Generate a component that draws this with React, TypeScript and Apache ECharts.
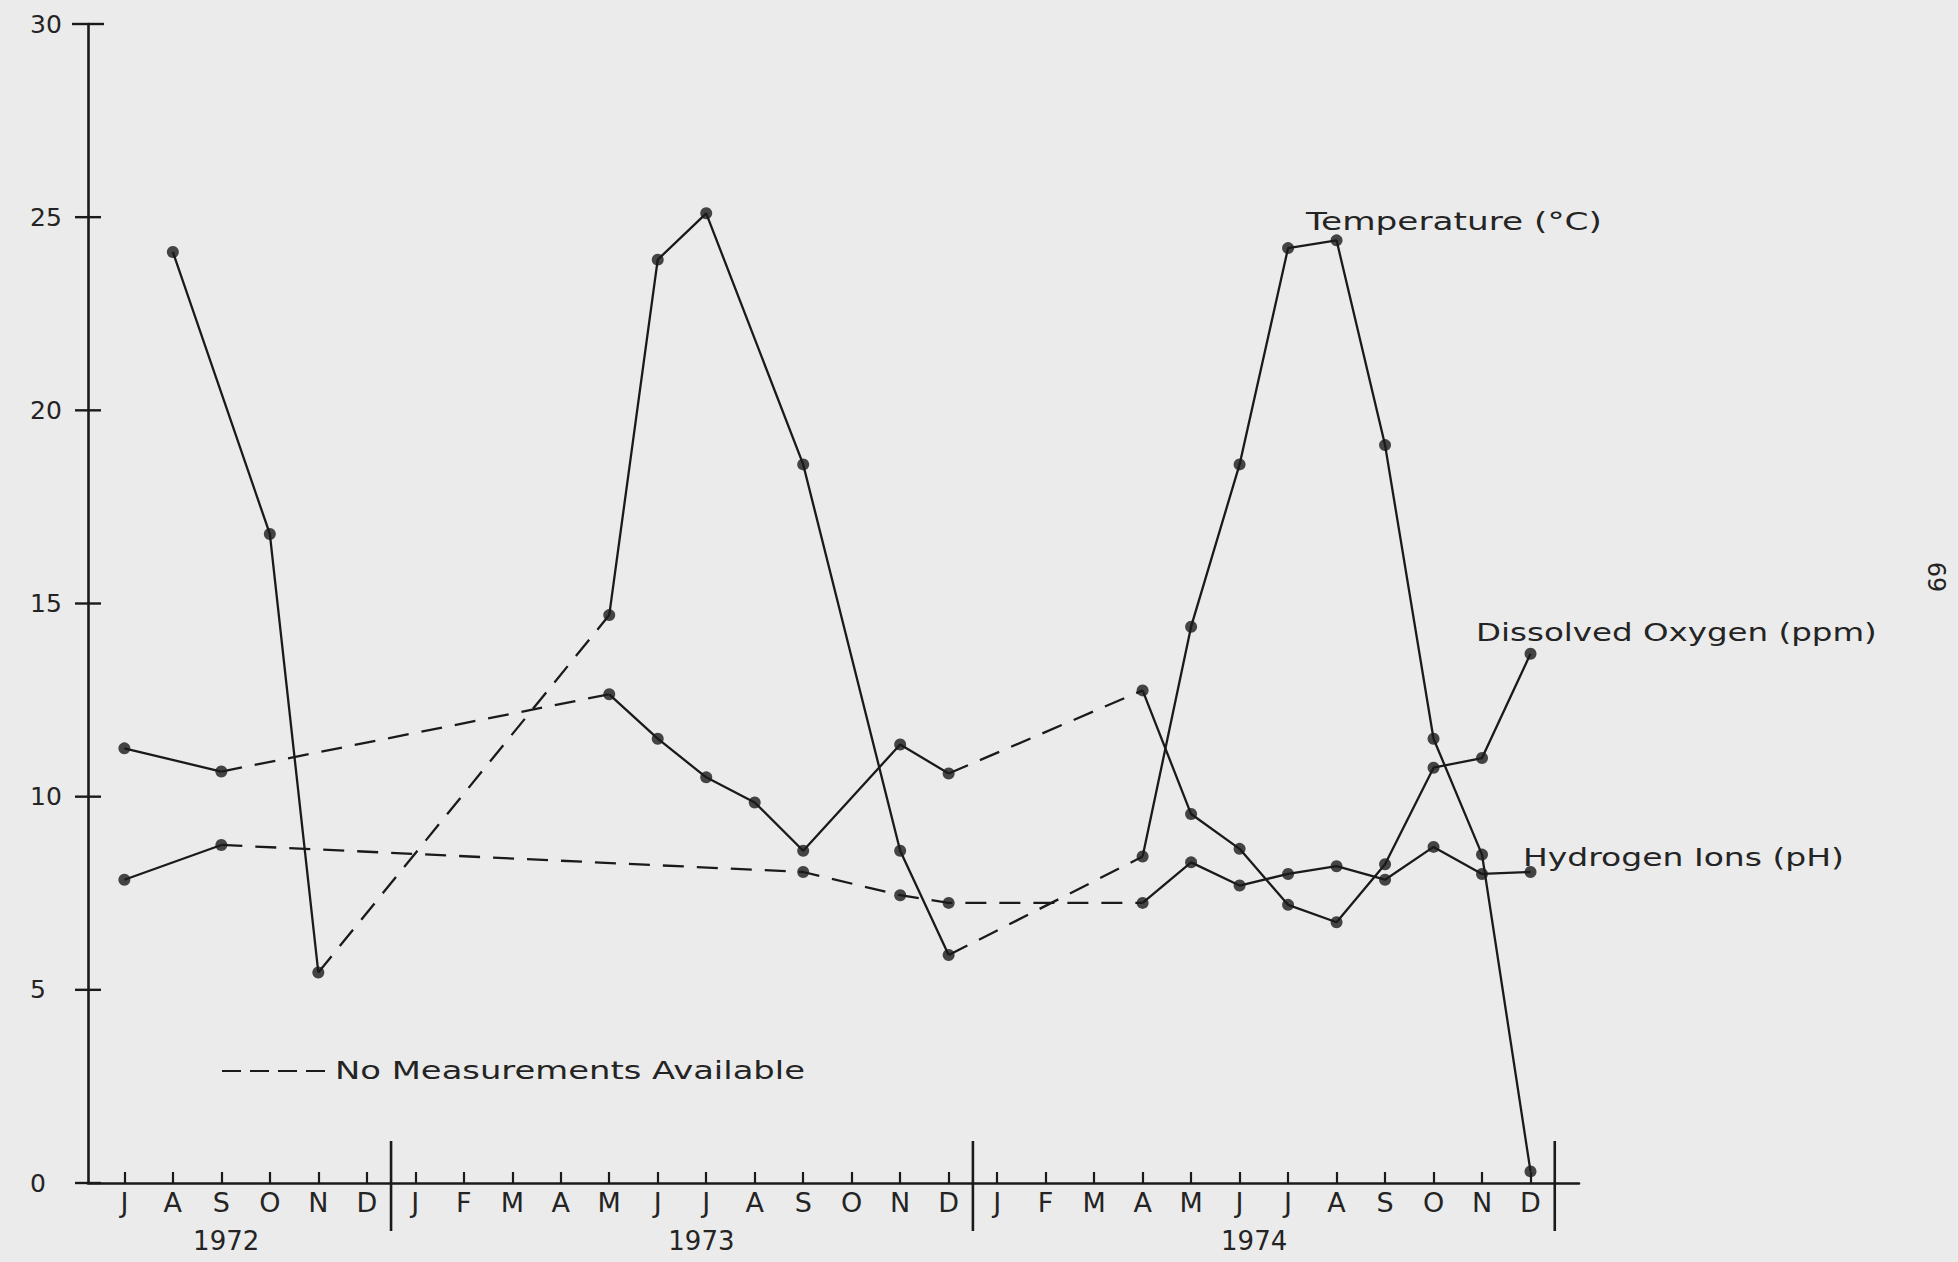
import React, { useEffect, useRef } from "react";
import * as echarts from "echarts";

// ---- data (month index 0 = July 1972 ... 29 = December 1974) ----
const monthLabels = [
  "J", "A", "S", "O", "N", "D",
  "J", "F", "M", "A", "M", "J", "J", "A", "S", "O", "N", "D",
  "J", "F", "M", "A", "M", "J", "J", "A", "S", "O", "N", "D",
];
const yearLabels = ["1972", "1973", "1974"];
const yearLabelPositions = [2.1, 11.9, 23.3];
const yearDividers = [5.5, 17.5, 29.5];
const yTickValues = [0, 5, 10, 15, 20, 25, 30];
const X_MIN = -0.75;
const X_MAX = 30;

const temperature = [
  null, 24.1, null, 16.8, 5.45, null,
  null, null, null, null, 14.7, 23.9, 25.1, null, 18.6, null, 8.6, 5.9,
  null, null, null, 8.45, 14.4, 18.6, 24.2, 24.4, 19.1, 11.5, 8.5, 0.3,
];
const dissolvedOxygen = [
  11.25, null, 10.65, null, null, null,
  null, null, null, null, 12.65, 11.5, 10.5, 9.85, 8.6, null, 11.35, 10.6,
  null, null, null, 12.75, 9.55, 8.65, 7.2, 6.75, 8.25, 10.75, 11.0, 13.7,
];
const hydrogenIons = [
  7.85, null, 8.75, null, null, null,
  null, null, null, null, null, null, null, null, 8.05, null, 7.45, 7.25,
  null, null, null, 7.25, 8.3, 7.7, 8.0, 8.2, 7.85, 8.7, 8.0, 8.05,
];

// spans (from, to month index) drawn dashed: "No Measurements Available"
const temperatureNoData = [[4, 10], [17, 21]];
const oxygenNoData = [[2, 10], [17, 21]];
const hydrogenNoData = [[2, 21]];

const seriesLabels = ["Temperature (°C)", "Dissolved Oxygen (ppm)", "Hydrogen Ions (pH)"];
const legendText = "No Measurements Available";
const pageNumber = "69";

// ---- styling ----
const INK = "#1a1a1a";
const TEXT = "#242424";
const BG = "#ebebeb";
const FONT = '"DejaVu Sans", "Liberation Sans", sans-serif';

function buildSegments(values: (number | null)[], noData: number[][]) {
  const pts: number[][] = [];
  values.forEach((v, i) => {
    if (v !== null && v !== undefined) pts.push([i, v]);
  });
  const segs: { dashed: boolean; points: number[][] }[] = [];
  for (let k = 0; k < pts.length - 1; k++) {
    const a = pts[k];
    const b = pts[k + 1];
    const dashed = noData.some(([s, e]) => s <= a[0] && b[0] <= e);
    const last = segs[segs.length - 1];
    if (last && last.dashed === dashed && last.points[last.points.length - 1] === a) {
      last.points.push(b);
    } else {
      segs.push({ dashed, points: [a, b] });
    }
  }
  return { pts, segs };
}

function measure(text: string, size: number) {
  const c = document.createElement("canvas");
  const ctx = c.getContext("2d");
  if (!ctx) return text.length * size * 0.6;
  ctx.font = `${size}px ${FONT}`;
  return ctx.measureText(text).width;
}

export default function App() {
  const ref = useRef<HTMLDivElement>(null);

  useEffect(() => {
    document.body.style.margin = "0";
    document.body.style.background = BG;
    if (!ref.current) return;
    const chart = echarts.init(ref.current, undefined, { renderer: "svg" });

    const params = [
      { name: "Temperature", values: temperature, noData: temperatureNoData },
      { name: "Dissolved Oxygen", values: dissolvedOxygen, noData: oxygenNoData },
      { name: "Hydrogen Ions", values: hydrogenIons, noData: hydrogenNoData },
    ];

    const series: any[] = [];
    params.forEach((p) => {
      const { pts, segs } = buildSegments(p.values, p.noData);
      segs.forEach((seg, si) => {
        series.push({
          type: "line",
          name: `${p.name} ${si}`,
          data: seg.points,
          showSymbol: false,
          symbol: "none",
          silent: true,
          z: 2,
          lineStyle: {
            color: INK,
            width: 2.3,
            type: seg.dashed ? [21, 13] : "solid",
          },
        });
      });
      series.push({
        type: "scatter",
        name: p.name,
        data: pts,
        symbol: "circle",
        symbolSize: 12,
        itemStyle: { color: INK },
        silent: true,
        z: 3,
      });
    });

    // y-axis ticks crossing the axis line on both sides
    series.push({
      type: "custom",
      name: "yTicks",
      data: yTickValues.map((v) => [X_MIN, v]),
      encode: { x: 0, y: 1 },
      clip: false,
      silent: true,
      renderItem: (_p: any, api: any) => {
        const v = api.value(1);
        const c = api.coord([api.value(0), v]);
        const half = v === 30 ? 16 : 13;
        return {
          type: "line",
          shape: { x1: c[0] - half, y1: c[1], x2: c[0] + half, y2: c[1] },
          style: { stroke: INK, lineWidth: 2.4 },
        };
      },
    });

    // year dividers on the time axis
    series.push({
      type: "custom",
      name: "dividers",
      data: yearDividers.map((x) => [x, 0]),
      encode: { x: 0, y: 1 },
      clip: false,
      silent: true,
      renderItem: (_p: any, api: any) => {
        const c = api.coord([api.value(0), 0]);
        return {
          type: "line",
          shape: { x1: c[0], y1: c[1] - 42, x2: c[0], y2: c[1] + 48 },
          style: { stroke: INK, lineWidth: 2.6 },
        };
      },
    });
    // year labels
    series.push({
      type: "custom",
      name: "years",
      data: yearLabelPositions.map((x) => [x, 0]),
      encode: { x: 0, y: 1 },
      clip: false,
      silent: true,
      renderItem: (p: any, api: any) => {
        const c = api.coord([api.value(0), 0]);
        return {
          type: "text",
          x: c[0],
          y: c[1] + 58,
          style: {
            text: yearLabels[p.dataIndex],
            font: `26px ${FONT}`,
            fill: TEXT,
            align: "center",
            verticalAlign: "middle",
            textAlign: "center",
            textVerticalAlign: "middle",
          },
        };
      },
    });

    const annSize = 25;
    const annotations = [
      { text: seriesLabels[0], left: 1306, right: 1602, y: 221 },
      { text: seriesLabels[1], left: 1476, right: 1877, y: 632 },
      { text: seriesLabels[2], left: 1523, right: 1844, y: 857 },
      { text: legendText, left: 335, right: 805, y: 1070 },
    ];
    const graphic: any[] = annotations.map((a) => ({
      type: "text",
      x: a.left,
      y: a.y,
      scaleX: (a.right - a.left) / measure(a.text, annSize),
      silent: true,
      style: {
        text: a.text,
        font: `${annSize}px ${FONT}`,
        fill: TEXT,
        align: "left",
        verticalAlign: "middle",
        textAlign: "left",
        textVerticalAlign: "middle",
      },
    }));
    graphic.push({
      type: "line",
      silent: true,
      shape: { x1: 222, y1: 1071, x2: 328, y2: 1071 },
      style: { stroke: INK, lineWidth: 2.2, lineDash: [19, 9] },
    });
    graphic.push({
      type: "text",
      x: 1938,
      y: 577,
      rotation: Math.PI / 2,
      silent: true,
      style: {
        text: pageNumber,
        font: `24px ${FONT}`,
        fill: TEXT,
        align: "center",
        verticalAlign: "middle",
        textAlign: "center",
        textVerticalAlign: "middle",
      },
    });

    const monthIdx = monthLabels.map((_, i) => i);

    chart.setOption({
      animation: false,
      backgroundColor: BG,
      grid: { left: 88, right: 379, top: 24, bottom: 79, containLabel: false },
      xAxis: {
        type: "value",
        min: X_MIN,
        max: X_MAX,
        axisLine: { show: true, onZero: false, lineStyle: { color: INK, width: 2.6 } },
        axisTick: {
          show: true,
          inside: true,
          length: 11,
          customValues: monthIdx,
          lineStyle: { color: INK, width: 2.2 },
        },
        axisLabel: {
          show: true,
          customValues: monthIdx,
          formatter: (v: number) => monthLabels[Math.round(v)] ?? "",
          margin: 6,
          fontSize: 27,
          fontFamily: FONT,
          color: TEXT,
        },
        splitLine: { show: false },
      },
      yAxis: {
        type: "value",
        min: 0,
        max: 30,
        interval: 5,
        position: "left",
        axisLine: { show: true, onZero: false, lineStyle: { color: INK, width: 2.6 } },
        axisTick: { show: false },
        axisLabel: {
          show: true,
          margin: 58,
          align: "left",
          fontSize: 25,
          fontFamily: FONT,
          color: TEXT,
          customValues: yTickValues,
        },
        splitLine: { show: false },
      },
      series,
      graphic,
    });

    return () => chart.dispose();
  }, []);

  return <div ref={ref} style={{ width: 1958, height: 1262, background: BG }} />;
}
